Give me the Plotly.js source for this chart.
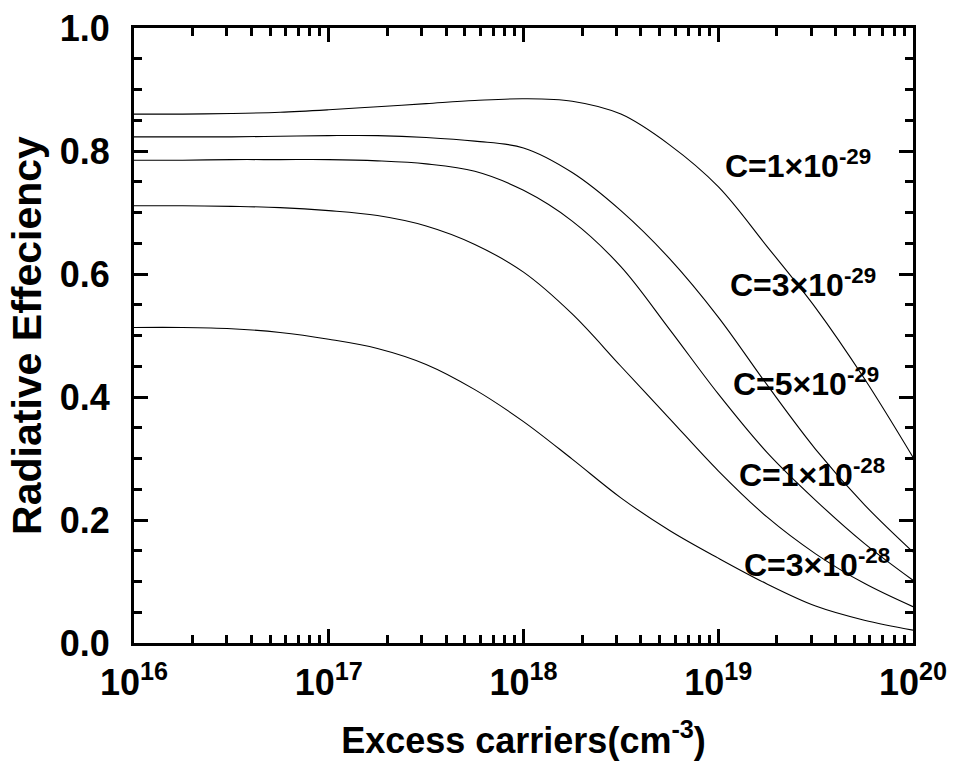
<!DOCTYPE html>
<html>
<head>
<meta charset="utf-8">
<script src="https://cdn.plot.ly/plotly-3.0.1.min.js"></script>
<style>
html,body{margin:0;padding:0;background:#fff;}
#chart{width:962px;height:780px;}
</style>
</head>
<body>
<div id="chart"></div>
<script>
// log10 of excess carrier density (cm^-3)
const logN = [16, 16.25, 16.5, 16.75, 17, 17.25, 17.5, 17.75, 18, 18.25, 18.5, 18.75, 19, 19.25, 19.5, 19.75, 20];

const effC1e29 = [0.860, 0.860, 0.861, 0.863, 0.867, 0.872, 0.877, 0.882, 0.885, 0.881, 0.860, 0.810, 0.742, 0.645, 0.545, 0.430, 0.302];
const effC3e29 = [0.823, 0.823, 0.823, 0.824, 0.825, 0.825, 0.822, 0.816, 0.805, 0.765, 0.703, 0.625, 0.530, 0.420, 0.315, 0.225, 0.148];
const effC5e29 = [0.785, 0.785, 0.786, 0.786, 0.786, 0.784, 0.779, 0.767, 0.736, 0.686, 0.612, 0.510, 0.405, 0.310, 0.232, 0.162, 0.102];
const effC1e28 = [0.711, 0.711, 0.710, 0.708, 0.703, 0.695, 0.678, 0.648, 0.603, 0.535, 0.450, 0.365, 0.280, 0.205, 0.145, 0.097, 0.059];
const effC3e28 = [0.513, 0.513, 0.511, 0.505, 0.494, 0.479, 0.453, 0.412, 0.360, 0.299, 0.236, 0.183, 0.138, 0.096, 0.060, 0.037, 0.021];

const seriesNames = ['C=1×10<sup>-29</sup>', 'C=3×10<sup>-29</sup>', 'C=5×10<sup>-29</sup>', 'C=1×10<sup>-28</sup>', 'C=3×10<sup>-28</sup>'];
const seriesData = [effC1e29, effC3e29, effC5e29, effC1e28, effC3e28];

// label anchor positions (paper coords)
const labelX = [0.756, 0.762, 0.767, 0.774, 0.781];
const labelY = [0.779, 0.586, 0.424, 0.277, 0.130];

const xTickVals = [1e16, 1e17, 1e18, 1e19, 1e20];
const xTickText = ['10<sup>16</sup>', '10<sup>17</sup>', '10<sup>18</sup>', '10<sup>19</sup>', '10<sup>20</sup>'];

const xs = logN.map(v => Math.pow(10, v));

const traces = seriesData.map((ys, i) => ({
  x: xs, y: ys, type: 'scatter', mode: 'lines', name: seriesNames[i],
  line: {color: '#000', width: 1.1, shape: 'spline', smoothing: 1},
  hoverinfo: 'skip'
}));

const FONT = 'Liberation Sans, Arial, sans-serif';

const annotations = seriesNames.map((t, i) => ({
  text: '<b>' + t + '</b>', xref: 'paper', yref: 'paper', x: labelX[i], y: labelY[i],
  xanchor: 'left', yanchor: 'middle', showarrow: false,
  font: {family: FONT, size: 32, color: '#000'}
}));

const layout = {
  width: 962, height: 780,
  margin: {l: 134, r: 49, t: 28, b: 137},
  paper_bgcolor: '#fff', plot_bgcolor: '#fff',
  showlegend: false,
  font: {family: FONT, color: '#000'},
  xaxis: {
    type: 'log', range: [16, 20],
    tickvals: xTickVals, ticktext: xTickText,
    ticks: 'inside', ticklen: 14, tickwidth: 3, tickcolor: '#000',
    minor: {ticks: 'inside', ticklen: 8, tickwidth: 3, tickcolor: '#000', dtick: 'D1', showgrid: false},
    showline: true, linewidth: 3, linecolor: '#000', mirror: 'allticks',
    showgrid: false, zeroline: false,
    tickfont: {family: FONT, size: 36, color: '#000', weight: 'bold'},
    ticklabelstandoff: 6,
    title: {text: '<b>Excess carriers(cm<sup>-3</sup>)</b>', font: {family: FONT, size: 36, color: '#000'}, standoff: 26}
  },
  yaxis: {
    range: [0, 1], dtick: 0.2, tick0: 0, tickformat: '.1f',
    ticks: 'inside', ticklen: 14, tickwidth: 3, tickcolor: '#000',
    minor: {ticks: 'inside', ticklen: 8, tickwidth: 3, tickcolor: '#000', dtick: 0.05, showgrid: false},
    showline: true, linewidth: 3, linecolor: '#000', mirror: 'allticks',
    showgrid: false, zeroline: false,
    tickfont: {family: FONT, size: 36, color: '#000', weight: 'bold'},
    ticklabelstandoff: 14,
    title: {text: '<b>Radiative Effeciency</b>', font: {family: FONT, size: 41, color: '#000'}, standoff: 6}
  },
  annotations: annotations
};

Plotly.newPlot('chart', traces, layout, {displayModeBar: false, staticPlot: true});
</script>
</body>
</html>
